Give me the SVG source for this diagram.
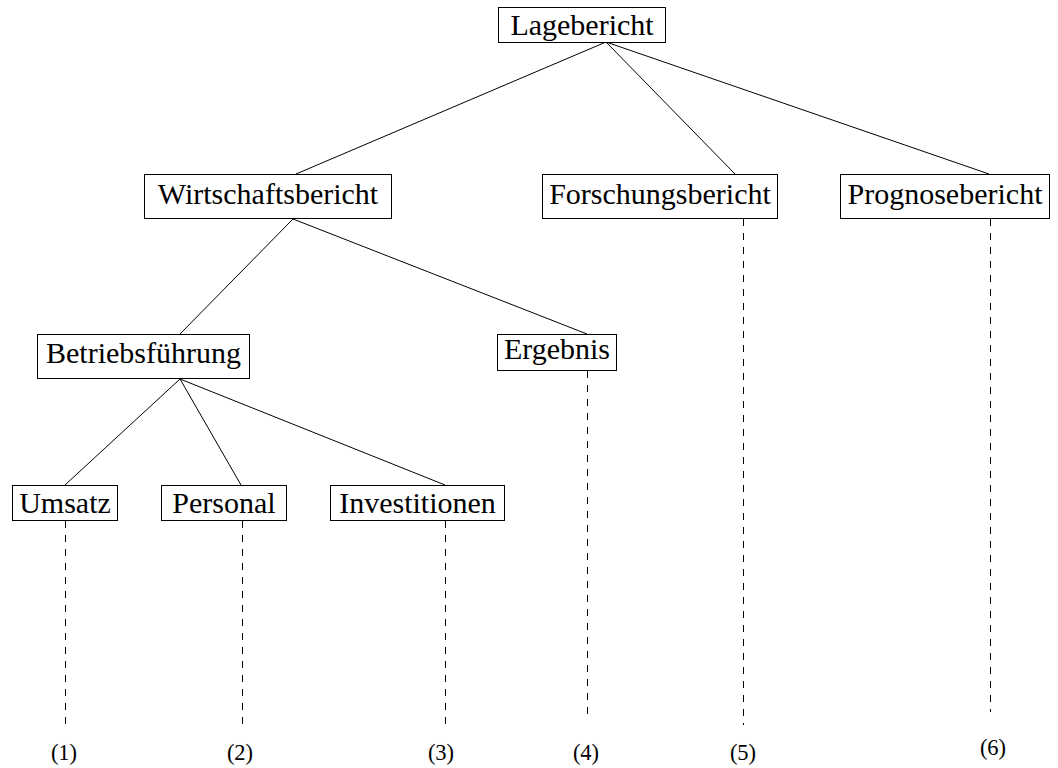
<svg xmlns="http://www.w3.org/2000/svg" width="1058" height="768" viewBox="0 0 1058 768">
  <style>
    .box { fill: #ffffff; stroke: #000000; stroke-width: 1; }
    .lbl { font-family: "Liberation Serif", "Times New Roman", serif; font-size: 30px; fill: #000000; text-anchor: middle; }
    .num { font-family: "Liberation Serif", "Times New Roman", serif; font-size: 22.5px; fill: #000000; text-anchor: middle; }
    .edge { stroke: #000000; stroke-width: 1; fill: none; }
    .lead { stroke: #000000; stroke-width: 1; fill: none; stroke-dasharray: 7 7; }
  </style>
  <rect width="1058" height="768" fill="#ffffff"/>

  <!-- tree edges and dashed leaders -->
  <g id="connectors">
    <line class="edge" x1="606" y1="42" x2="296" y2="174"/>
    <line class="edge" x1="606" y1="42" x2="735" y2="174"/>
    <line class="edge" x1="606" y1="42" x2="989" y2="174"/>
    <line class="edge" x1="293" y1="219" x2="180" y2="334"/>
    <line class="edge" x1="293" y1="219" x2="587" y2="334"/>
    <line class="edge" x1="180" y1="379" x2="65" y2="485"/>
    <line class="edge" x1="180" y1="379" x2="241" y2="485"/>
    <line class="edge" x1="180" y1="379" x2="445" y2="485"/>
    <line class="lead" x1="65.5" y1="521" x2="65.5" y2="725"/>
    <line class="lead" x1="242.5" y1="521" x2="242.5" y2="725"/>
    <line class="lead" x1="445.5" y1="521" x2="445.5" y2="725"/>
    <line class="lead" x1="587.5" y1="371" x2="587.5" y2="721"/>
    <line class="lead" x1="743.5" y1="219" x2="743.5" y2="725"/>
    <line class="lead" x1="990.5" y1="219" x2="990.5" y2="712"/>
  </g>

  <g id="lagebericht">
    <rect class="box" x="498.5" y="7.5" width="167" height="35"/>
    <text class="lbl" x="582" y="35">Lagebericht</text>
  </g>
  <g id="wirtschaftsbericht">
    <rect class="box" x="144.5" y="174.5" width="247" height="44"/>
    <text class="lbl" x="268" y="204">Wirtschaftsbericht</text>
  </g>
  <g id="forschungsbericht">
    <rect class="box" x="542.5" y="174.5" width="235" height="44"/>
    <text class="lbl" x="660" y="204">Forschungsbericht</text>
  </g>
  <g id="prognosebericht">
    <rect class="box" x="840.5" y="174.5" width="209" height="44"/>
    <text class="lbl" x="945" y="204">Prognosebericht</text>
  </g>
  <g id="betriebsfuehrung">
    <rect class="box" x="37.5" y="334.5" width="212" height="44"/>
    <text class="lbl" x="143.5" y="363">Betriebsführung</text>
  </g>
  <g id="ergebnis">
    <rect class="box" x="497.5" y="334.5" width="119" height="36"/>
    <text class="lbl" x="557" y="359">Ergebnis</text>
  </g>
  <g id="umsatz">
    <rect class="box" x="12.5" y="485.5" width="105" height="35"/>
    <text class="lbl" x="65" y="513">Umsatz</text>
  </g>
  <g id="personal">
    <rect class="box" x="161.5" y="485.5" width="125" height="35"/>
    <text class="lbl" x="224" y="513">Personal</text>
  </g>
  <g id="investitionen">
    <rect class="box" x="330.5" y="485.5" width="174" height="35"/>
    <text class="lbl" x="417.5" y="513">Investitionen</text>
  </g>

  <!-- leader numbers -->
  <g id="numbers">
    <text class="num" x="64" y="760">(1)</text>
    <text class="num" x="240" y="760">(2)</text>
    <text class="num" x="441" y="760">(3)</text>
    <text class="num" x="586" y="760">(4)</text>
    <text class="num" x="743" y="760">(5)</text>
    <text class="num" x="993" y="755">(6)</text>
  </g>
</svg>
